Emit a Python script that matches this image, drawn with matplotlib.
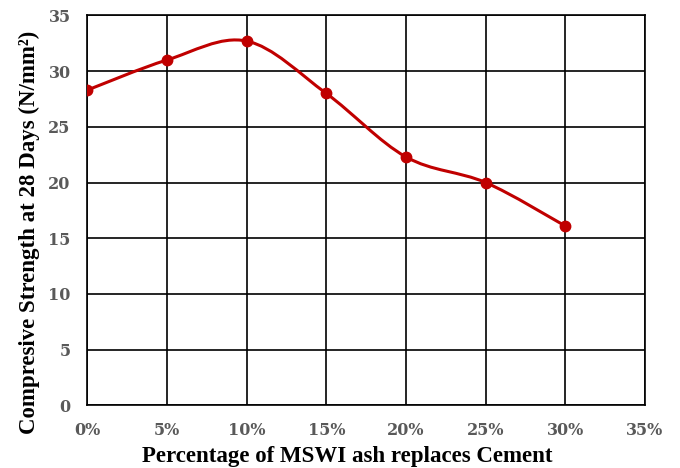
import numpy as np
import matplotlib
matplotlib.use("Agg")
import matplotlib.pyplot as plt
from matplotlib.path import Path
from matplotlib.patches import PathPatch

# data
replacement = [0, 5, 10, 15, 20, 25, 30]      # % of MSWI ash
strength = [28.3, 31.0, 32.7, 28.0, 22.3, 20.0, 16.1]  # N/mm2
xticks = [0, 5, 10, 15, 20, 25, 30, 35]
xtick_labels = ["0%", "5%", "10%", "15%", "20%", "25%", "30%", "35%"]
yticks = [0, 5, 10, 15, 20, 25, 30, 35]

red = "#C00000"

fig = plt.figure(figsize=(6.8, 4.68), dpi=100)
ax = fig.add_axes([0.1284, 0.134, 0.82, 0.833])

# excel style smoothed line -> bezier path through the points
pts = np.column_stack([replacement, strength]).astype(float)
verts = [tuple(pts[0])]
codes = [Path.MOVETO]
n = len(pts)
for i in range(n - 1):
    p0 = pts[i - 1] if i > 0 else pts[i]
    p1 = pts[i]
    p2 = pts[i + 1]
    p3 = pts[i + 2] if i + 2 < n else pts[i + 1]
    c1 = p1 + (p2 - p0) / 6.0
    c2 = p2 - (p3 - p1) / 6.0
    verts += [tuple(c1), tuple(c2), tuple(p2)]
    codes += [Path.CURVE4] * 3
ax.add_patch(PathPatch(Path(verts, codes), facecolor="none", edgecolor=red,
                       linewidth=2.2, zorder=3, capstyle="round"))
ax.plot(replacement, strength, linestyle="none", marker="o", color=red,
        markersize=7.5, zorder=4)

ax.set_xlim(0, 35)
ax.set_ylim(0, 35)
ax.set_xticks(xticks)
ax.set_xticklabels(xtick_labels)
ax.set_yticks(yticks)
ax.grid(True, color="black", linewidth=1.2)
ax.set_axisbelow(True)
for s in ax.spines.values():
    s.set_color("black")
    s.set_linewidth(1.2)
ax.tick_params(length=0, pad=12, labelsize=11.5, labelcolor="#595959")
for lab in ax.get_xticklabels() + ax.get_yticklabels():
    lab.set_fontfamily("DejaVu Serif")
    lab.set_fontweight("bold")

ax.set_xlabel("Percentage of MSWI ash replaces Cement", fontsize=16.5,
              fontweight="bold", family="Liberation Serif")
ax.set_ylabel("Compresive Strength at 28 Days (N/mm²)", fontsize=16.5,
              fontweight="bold", family="Liberation Serif")
ax.xaxis.set_label_coords(0.466, -0.105)
ax.yaxis.set_label_coords(-0.084, 0.443)

fig.savefig("out.png", dpi=100)
